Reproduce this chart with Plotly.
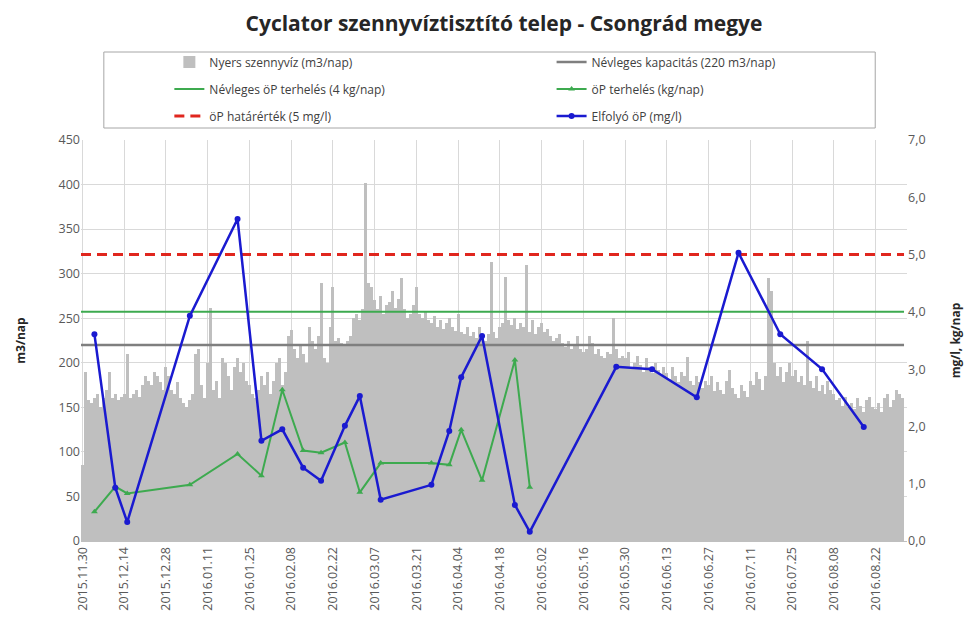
import pandas as pd
import plotly.graph_objects as go

# ---- data ----
start_date = "2015-11-30"
nyers = [
    85, 190, 158, 155, 160, 165, 150, 160, 170, 190, 160, 165, 158, 162,
    165, 210, 160, 165, 170, 162, 175, 185, 180, 175, 190, 185, 178, 170,
    195, 185, 170, 165, 178, 160, 155, 150, 158, 165, 210, 215, 175, 160,
    200, 262, 170, 180, 160, 205, 200, 185, 170, 195, 205, 190, 200, 180,
    175, 165, 160, 170, 185, 175, 190, 165, 180, 200, 205, 175, 190, 230,
    237, 215, 205, 220, 210, 200, 240, 225, 215, 230, 290, 205, 200, 240,
    285, 225, 228, 222, 220, 225, 230, 250, 255, 248, 260, 402, 290, 285,
    270, 260, 275, 255, 265, 268, 280, 262, 272, 295, 260, 250, 255, 265,
    285, 255, 250, 258, 248, 245, 252, 240, 248, 238, 245, 250, 240, 236,
    255, 235, 232, 240, 230, 235, 228, 240, 230, 225, 232, 313, 235, 228,
    240, 245, 296, 248, 242, 250, 238, 245, 240, 310, 235, 248, 232, 240,
    245, 235, 238, 230, 225, 228, 232, 222, 218, 225, 215, 220, 230, 215,
    212, 215, 230, 222, 210, 215, 208, 205, 212, 210, 250, 215, 205, 208,
    205, 212, 195, 200, 208, 198, 190, 205, 195, 188, 200, 192, 185, 195,
    188, 182, 195, 185, 178, 190, 185, 206, 180, 175, 185, 178, 172, 180,
    175, 185, 168, 178, 170, 165, 180, 192, 172, 165, 160, 175, 168, 162,
    180, 175, 190, 182, 170, 185, 295, 280, 200, 185, 195, 178, 190, 200,
    185, 192, 178, 185, 175, 225, 180, 172, 185, 168, 175, 165, 180, 170,
    165, 158, 160, 152, 162, 150, 155, 148, 160, 152, 145, 158, 162, 150,
    148, 155, 145, 160, 165, 150, 158, 170, 165, 160,
]
kapacitas = 220          # m3/nap
nevleges_terheles = 4.0  # kg/nap
hatarertek = 5.0         # mg/l

minta_datum = [
    "2015-12-04", "2015-12-11", "2015-12-15", "2016-01-05", "2016-01-21",
    "2016-01-29", "2016-02-05", "2016-02-12", "2016-02-18", "2016-02-26",
    "2016-03-02", "2016-03-09", "2016-03-26", "2016-04-01", "2016-04-05",
    "2016-04-12", "2016-04-23", "2016-04-28", "2016-05-27", "2016-06-08",
    "2016-06-23", "2016-07-07", "2016-07-21", "2016-08-04", "2016-08-18",
]
elfolyo_p = [
    3.61, 0.93, 0.33, 3.93, 5.62, 1.75, 1.95, 1.28, 1.05, 2.01,
    2.53, 0.72, 0.98, 1.92, 2.86, 3.58, 0.63, 0.16, 3.04, 3.00,
    2.51, 5.03, 3.61, 3.00, 1.99,
]
p_terheles = [
    0.51, 0.95, 0.83, 0.98, 1.52, 1.14, 2.64, 1.58, 1.54, 1.72,
    0.85, 1.36, 1.36, 1.33, 1.94, 1.06, 3.16, 0.94,
]

tick_labels_fmt = "%Y.%m.%d"

# ---- figure ----
dates = pd.date_range(start_date, periods=len(nyers), freq="D")
x_span = [dates[0] - pd.Timedelta(hours=12), dates[-1] + pd.Timedelta(hours=12)]

FONT = "Open Sans"
fig = go.Figure()

fig.add_trace(go.Bar(
    x=dates, y=nyers, name="Nyers szennyvíz (m3/nap)",
    marker=dict(color="#BFBFBF", line=dict(width=0)),
    legend="legend", showlegend=True,
))
fig.add_trace(go.Scatter(
    x=x_span, y=[kapacitas, kapacitas], mode="lines",
    name="Névleges kapacitás (220 m3/nap)",
    line=dict(color="#7F7F7F", width=2.5), legend="legend2",
))
fig.add_trace(go.Scatter(
    x=x_span, y=[nevleges_terheles] * 2, mode="lines", yaxis="y2",
    name="Névleges öP terhelés (4 kg/nap)",
    line=dict(color="#3DAA4F", width=2), legend="legend3",
))
fig.add_trace(go.Scatter(
    x=minta_datum[:len(p_terheles)], y=p_terheles, mode="lines+markers", yaxis="y2",
    name="öP terhelés (kg/nap)",
    line=dict(color="#3DAA4F", width=2),
    marker=dict(symbol="triangle-up", size=6, color="#3DAA4F"),
    legend="legend4",
))
fig.add_trace(go.Scatter(
    x=x_span, y=[hatarertek] * 2, mode="lines", yaxis="y2",
    name="öP határérték (5 mg/l)",
    line=dict(color="#E0261E", width=3, dash="10px,6px"), legend="legend5",
))
fig.add_trace(go.Scatter(
    x=minta_datum, y=elfolyo_p, mode="lines+markers", yaxis="y2",
    name="Elfolyó öP (mg/l)",
    line=dict(color="#1A1AD0", width=2.5),
    marker=dict(symbol="circle", size=6, color="#1A1AD0"),
    legend="legend6",
))

# page has an 8px body margin; work in window pixels and convert
OFF = 8
W, H = 973 - OFF, 626 - OFF
L, T = 78 - OFF, 140 - OFF
pw, ph = 910 - 78, 541 - 140
R, B = W - L - pw, H - T - ph


def px_x(px):
    return (px - OFF - L) / pw


def px_y(py):
    return (H - B - (py - OFF)) / ph


def leg(xpx, ypx):
    return dict(x=px_x(xpx), y=px_y(ypx), xanchor="left", yanchor="middle",
                bgcolor="rgba(0,0,0,0)", borderwidth=0,
                font=dict(family=FONT, size=12, color="#404040"))


tickfont = dict(family=FONT, size=12.5, color="#595959")
axtitle = dict(family=FONT, size=12, color="#262626", weight="bold")
fig.update_layout(
    width=W, height=H,
    margin=dict(l=L, r=R, t=T, b=B),
    paper_bgcolor="white", plot_bgcolor="white",
    separators=",.",
    bargap=0,
    showlegend=True,
    title=dict(text="<b>Cyclator szennyvíztisztító telep - Csongrád megye</b>",
               x=(504 - OFF) / W, xanchor="center",
               y=1 - (24 - OFF) / H, yanchor="middle",
               font=dict(family=FONT, size=21, color="#262626")),
    xaxis=dict(type="date", range=[x_span[0], dates[-1] + pd.Timedelta(hours=36)],
               tick0=start_date, dtick=14 * 86400000, tickformat=tick_labels_fmt,
               tickangle=-90, tickfont=tickfont, showgrid=True, gridcolor="#D9D9D9",
               gridwidth=1, showline=True, linecolor="#BFBFBF", ticks="", zeroline=False),
    yaxis=dict(range=[0, 450], dtick=50, tickfont=tickfont, showgrid=True,
               gridcolor="#D9D9D9", zeroline=False, showline=False,
               title=dict(text="m3/nap", font=axtitle, standoff=30)),
    yaxis2=dict(range=[0, 7], dtick=1, tickformat=".1f", overlaying="y", side="right",
                tickfont=tickfont, showgrid=False, zeroline=False, showline=False,
                title=dict(text="mg/l, kg/nap", font=axtitle, standoff=27)),
    legend=leg(167, 62),
    legend2=leg(552, 62),
    legend3=leg(167, 89),
    legend4=leg(552, 89),
    legend5=leg(167, 116),
    legend6=leg(552, 116),
    shapes=[dict(type="rect", xref="paper", yref="paper",
                 x0=px_x(101), x1=px_x(878), y0=px_y(128), y1=px_y(52),
                 line=dict(color="#A6A6A6", width=1), fillcolor="rgba(0,0,0,0)")],
)

fig.write_html("out.html")
